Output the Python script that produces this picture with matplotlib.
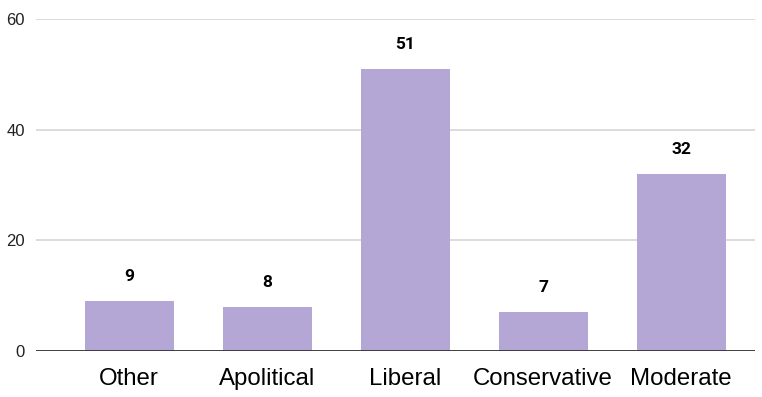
import matplotlib.pyplot as plt

categories = ['Other', 'Apolitical', 'Liberal', 'Conservative', 'Moderate']
counts = [9, 8, 51, 7, 32]
y_ticks = [0, 20, 40, 60]

fig = plt.figure(figsize=(7.62, 3.97), dpi=100)
ax = fig.add_axes([36 / 762, 1 - 351 / 397, (755 - 36) / 762, (351 - 19) / 397])

x = list(range(len(categories)))
bars = ax.bar(x, counts, width=0.645, color='#b4a7d6', zorder=2)

# подписи значений над столбцами
for bar, val in zip(bars, counts):
    ax.annotate(str(val), (bar.get_x() + bar.get_width() / 2, val),
                xytext=(0, 17.5), textcoords='offset points',
                ha='center', va='center', fontsize=12.5, fontweight='bold',
                family='Roboto', color='#000000')

ax.set_xlim(-0.674, 4.536)
ax.set_ylim(0, 60)
ax.set_yticks(y_ticks)
ax.set_yticklabels([str(t) for t in y_ticks], fontsize=12, family='Liberation Sans', color='#222222')
ax.set_xticks(x)
ax.set_xticklabels(categories, fontsize=17.3, family='Liberation Sans', color='#000000')
ax.tick_params(axis='y', length=0, pad=8)
ax.tick_params(axis='x', length=0, pad=12)

ax.grid(axis='y', color='#d9d9d9', linewidth=1.3, zorder=0)
ax.axhline(0, color='#333333', linewidth=1.3, zorder=3)
for side in ['top', 'right', 'left', 'bottom']:
    ax.spines[side].set_visible(False)

plt.savefig('out.png', dpi=100)
